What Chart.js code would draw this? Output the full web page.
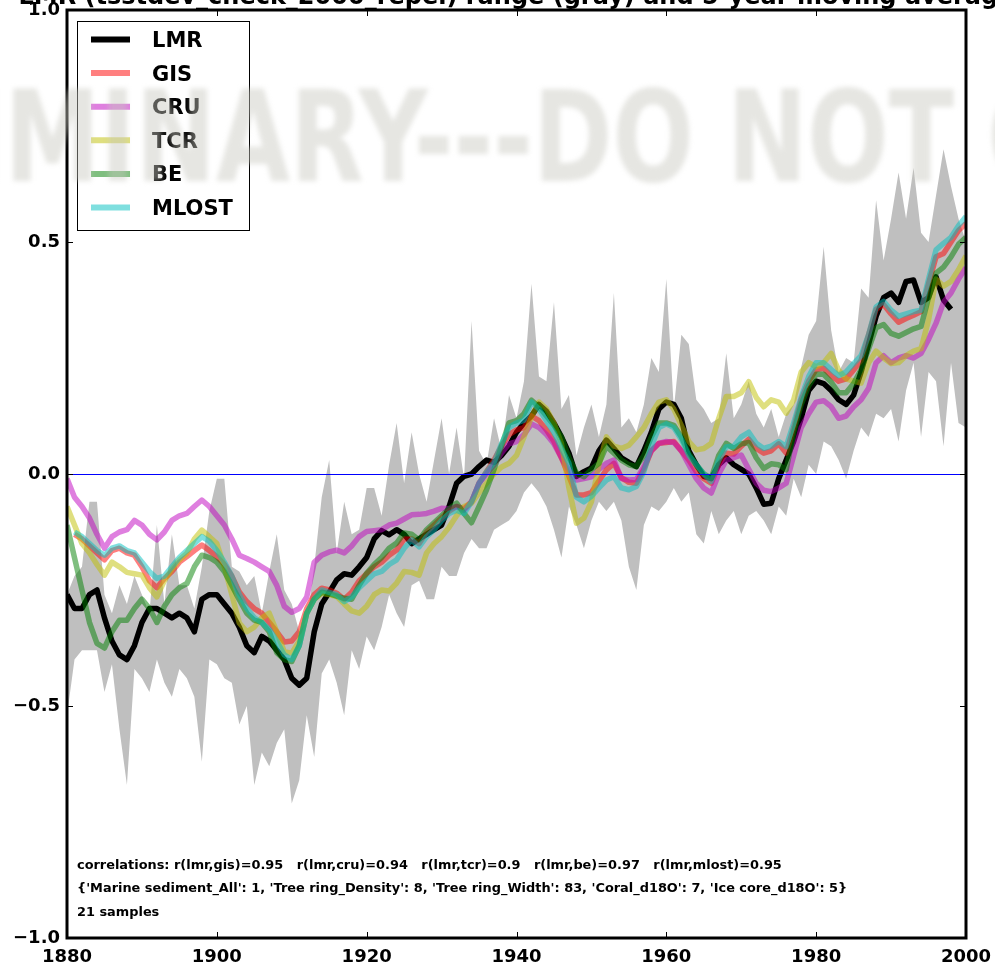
<!DOCTYPE html>
<html>
<head>
<meta charset="utf-8">
<script src="https://cdn.jsdelivr.net/npm/chart.js@4.4.0/dist/chart.umd.min.js"></script>
<style>
  html, body { margin: 0; padding: 0; background: #fff; }
  #wrap { width: 995px; height: 964px; position: relative; }
  canvas { display: block; }
</style>
</head>
<body>
<div id="wrap"><canvas id="c" width="995" height="964"></canvas></div>
<script>
// Annual values, one entry per year starting at firstYear (1880..2000)
const firstYear = 1880;

const lmr = [
  -0.26, -0.29, -0.29, -0.26, -0.25, -0.31, -0.36, -0.39, -0.40, -0.37,
  -0.32, -0.29, -0.29, -0.30, -0.31, -0.30, -0.31, -0.34, -0.27, -0.26,
  -0.26, -0.28, -0.30, -0.33, -0.37, -0.385, -0.35, -0.36, -0.38, -0.40,
  -0.44, -0.455, -0.44, -0.34, -0.28, -0.255, -0.228, -0.215, -0.218, -0.20,
  -0.18, -0.14, -0.122, -0.131, -0.12, -0.13, -0.15, -0.14, -0.13, -0.12,
  -0.11, -0.07, -0.02, -0.005, 0.00, 0.016, 0.03, 0.025, 0.04, 0.06,
  0.09, 0.11, 0.125, 0.15, 0.135, 0.11, 0.08, 0.045, -0.005, 0.005,
  0.013, 0.05, 0.073, 0.055, 0.035, 0.025, 0.016, 0.05, 0.09, 0.14,
  0.155, 0.15, 0.12, 0.05, 0.02, -0.005, -0.01, 0.02, 0.035, 0.02,
  0.01, 0.0, -0.03, -0.065, -0.063, -0.01, 0.03, 0.07, 0.12, 0.18,
  0.20, 0.195, 0.18, 0.16, 0.15, 0.17, 0.22, 0.28, 0.34, 0.38,
  0.39, 0.37, 0.415, 0.418, 0.37, 0.38, 0.425, 0.375, 0.355, null, null
];

const gis = [
  null, -0.13, -0.14, -0.155, -0.17, -0.185, -0.165, -0.16, -0.17, -0.175,
  -0.20, -0.23, -0.245, -0.225, -0.21, -0.19, -0.178, -0.165, -0.153, -0.165,
  -0.178, -0.195, -0.22, -0.254, -0.275, -0.29, -0.30, -0.32, -0.34, -0.362,
  -0.36, -0.34, -0.29, -0.26, -0.246, -0.25, -0.257, -0.27, -0.255, -0.23,
  -0.215, -0.20, -0.19, -0.175, -0.164, -0.14, -0.14, -0.15, -0.125, -0.11,
  -0.095, -0.08, -0.07, -0.075, -0.06, -0.02, 0.005, 0.03, 0.06, 0.085,
  0.095, 0.10, 0.125, 0.115, 0.095, 0.07, 0.035, -0.005, -0.045, -0.045,
  -0.04, -0.015, 0.009, 0.023, -0.008, -0.018, -0.02, 0.01, 0.05, 0.066,
  0.068, 0.07, 0.05, 0.03, 0.005, -0.01, -0.02, 0.02, 0.045, 0.043,
  0.06, 0.075, 0.055, 0.045, 0.05, 0.065, 0.045, 0.10, 0.16, 0.20,
  0.225, 0.228, 0.212, 0.20, 0.205, 0.224, 0.245, 0.30, 0.355, 0.365,
  0.345, 0.327, 0.335, 0.342, 0.35, 0.41, 0.468, 0.475, 0.50, 0.525, 0.54
];

const cru = [
  -0.01, -0.05, -0.07, -0.095, -0.13, -0.16, -0.135, -0.125, -0.12, -0.10,
  -0.11, -0.13, -0.142, -0.125, -0.10, -0.09, -0.085, -0.07, -0.056, -0.07,
  -0.09, -0.11, -0.14, -0.175, -0.182, -0.19, -0.20, -0.21, -0.24, -0.285,
  -0.298, -0.29, -0.265, -0.19, -0.175, -0.168, -0.164, -0.17, -0.155, -0.135,
  -0.124, -0.122, -0.12, -0.11, -0.106, -0.097, -0.088, -0.087, -0.085, -0.08,
  -0.074, -0.075, -0.07, -0.078, -0.06, -0.02, 0.0, 0.02, 0.045, 0.065,
  0.07, 0.085, 0.108, 0.10, 0.085, 0.065, 0.035, 0.008, -0.013, -0.01,
  -0.006, 0.01, 0.023, 0.03, -0.01, -0.013, -0.012, 0.016, 0.05, 0.066,
  0.07, 0.068, 0.05, 0.02, -0.01, -0.03, -0.041, 0.0, 0.03, 0.035,
  0.041, 0.01, -0.02, -0.035, -0.038, -0.03, -0.02, 0.04, 0.10, 0.13,
  0.155, 0.158, 0.145, 0.12, 0.125, 0.145, 0.16, 0.185, 0.24, 0.255,
  0.24, 0.25, 0.255, 0.25, 0.26, 0.29, 0.325, 0.37, 0.39, 0.42, 0.445
];

const tcr = [
  -0.07, -0.11, -0.15, -0.17, -0.195, -0.218, -0.19, -0.20, -0.212, -0.215,
  -0.218, -0.245, -0.265, -0.23, -0.205, -0.185, -0.171, -0.14, -0.121, -0.135,
  -0.15, -0.20, -0.26, -0.321, -0.34, -0.33, -0.31, -0.30, -0.34, -0.383,
  -0.386, -0.36, -0.30, -0.27, -0.257, -0.26, -0.264, -0.28, -0.295, -0.30,
  -0.285, -0.26, -0.25, -0.252, -0.235, -0.21, -0.212, -0.218, -0.17, -0.15,
  -0.135, -0.115, -0.09, -0.07, -0.063, -0.04, -0.02, 0.0, 0.015, 0.023,
  0.04, 0.08, 0.123, 0.155, 0.14, 0.11, 0.066, -0.03, -0.106, -0.095,
  -0.06, 0.02, 0.08, 0.06, 0.055, 0.062, 0.08, 0.10, 0.13, 0.155,
  0.16, 0.14, 0.105, 0.07, 0.052, 0.055, 0.066, 0.12, 0.167, 0.167,
  0.175, 0.199, 0.165, 0.145, 0.16, 0.155, 0.131, 0.16, 0.22, 0.24,
  0.231, 0.24, 0.26, 0.224, 0.205, 0.20, 0.196, 0.24, 0.265, 0.25,
  0.238, 0.24, 0.255, 0.265, 0.27, 0.332, 0.42, 0.405, 0.415, 0.44, 0.47
];

const be = [
  -0.11, -0.18, -0.25, -0.32, -0.365, -0.375, -0.34, -0.315, -0.315, -0.29,
  -0.27, -0.29, -0.32, -0.285, -0.26, -0.245, -0.236, -0.20, -0.175, -0.18,
  -0.19, -0.21, -0.24, -0.271, -0.30, -0.315, -0.32, -0.34, -0.385, -0.40,
  -0.404, -0.37, -0.30, -0.27, -0.255, -0.258, -0.263, -0.268, -0.27, -0.24,
  -0.214, -0.195, -0.18, -0.16, -0.149, -0.127, -0.13, -0.142, -0.12, -0.105,
  -0.09, -0.075, -0.063, -0.085, -0.105, -0.07, -0.034, 0.01, 0.06, 0.11,
  0.115, 0.13, 0.159, 0.145, 0.125, 0.105, 0.08, 0.035, 0.002, -0.006,
  0.01, 0.023, 0.06, 0.045, 0.03, 0.02, 0.016, 0.04, 0.08, 0.11,
  0.11, 0.105, 0.08, 0.045, 0.02, 0.0, -0.009, 0.04, 0.066, 0.055,
  0.065, 0.068, 0.035, 0.012, 0.022, 0.02, 0.009, 0.09, 0.15, 0.19,
  0.215, 0.215, 0.198, 0.175, 0.175, 0.195, 0.225, 0.27, 0.315, 0.322,
  0.303, 0.297, 0.305, 0.313, 0.318, 0.38, 0.433, 0.446, 0.468, 0.495, 0.51
];

const mlost = [
  null, -0.125, -0.135, -0.15, -0.165, -0.175, -0.16, -0.155, -0.165, -0.17,
  -0.19, -0.21, -0.225, -0.22, -0.20, -0.18, -0.165, -0.15, -0.135, -0.145,
  -0.165, -0.19, -0.22, -0.26, -0.29, -0.31, -0.32, -0.335, -0.36, -0.39,
  -0.40, -0.37, -0.30, -0.27, -0.25, -0.255, -0.26, -0.275, -0.265, -0.245,
  -0.23, -0.215, -0.21, -0.195, -0.185, -0.16, -0.142, -0.157, -0.135, -0.12,
  -0.10, -0.085, -0.078, -0.085, -0.06, -0.02, 0.005, 0.025, 0.065, 0.10,
  0.11, 0.116, 0.155, 0.14, 0.115, 0.09, 0.055, 0.023, -0.05, -0.06,
  -0.048, -0.03, -0.013, -0.006, -0.03, -0.034, -0.027, 0.005, 0.06, 0.10,
  0.108, 0.10, 0.075, 0.04, 0.02, 0.0, -0.016, 0.03, 0.059, 0.06,
  0.08, 0.09, 0.066, 0.055, 0.06, 0.07, 0.059, 0.11, 0.165, 0.21,
  0.24, 0.24, 0.225, 0.212, 0.22, 0.238, 0.255, 0.30, 0.36, 0.372,
  0.353, 0.34, 0.345, 0.35, 0.353, 0.42, 0.483, 0.497, 0.51, 0.535, 0.555
];

// Ensemble spread: annual upper and lower bounds
const rangeMax = [
  -0.26, -0.22, -0.20, -0.06, -0.06, -0.26, -0.30, -0.24, -0.28, -0.22,
  -0.26, -0.30, -0.11, -0.28, -0.13, -0.24, -0.24, -0.29, -0.20, -0.08,
  -0.01, -0.01, -0.20, -0.21, -0.24, -0.22, -0.30, -0.21, -0.13, -0.25,
  -0.28, -0.34, -0.32, -0.20, -0.05, 0.03, -0.17, -0.06, -0.13, -0.12,
  -0.03, -0.03, -0.09, 0.02, 0.11, -0.02, 0.09, 0.00, -0.06, 0.03,
  0.12, 0.00, 0.10, -0.01, 0.33, 0.05, 0.02, 0.12, 0.05, 0.17,
  0.12, 0.20, 0.41, 0.21, 0.20, 0.37, 0.14, 0.17, 0.04, 0.10,
  0.15, 0.08, 0.15, 0.39, 0.10, 0.12, 0.09, 0.15, 0.25, 0.22,
  0.42, 0.14, 0.30, 0.28, 0.16, 0.14, 0.11, 0.12, 0.26, 0.12,
  0.15, 0.20, 0.13, 0.10, 0.14, 0.08, 0.13, 0.15, 0.23, 0.30,
  0.33, 0.49, 0.31, 0.22, 0.25, 0.24, 0.40, 0.38, 0.59, 0.46,
  0.55, 0.65, 0.55, 0.66, 0.52, 0.50, 0.60, 0.70, 0.62, 0.55, 0.50
];

const rangeMin = [
  -0.52, -0.40, -0.38, -0.38, -0.38, -0.47, -0.41, -0.55, -0.67, -0.42,
  -0.44, -0.47, -0.40, -0.45, -0.48, -0.42, -0.44, -0.48, -0.62, -0.40,
  -0.41, -0.44, -0.45, -0.54, -0.50, -0.67, -0.60, -0.63, -0.58, -0.55,
  -0.71, -0.66, -0.52, -0.61, -0.43, -0.40, -0.45, -0.52, -0.38, -0.42,
  -0.35, -0.38, -0.33, -0.26, -0.30, -0.33, -0.24, -0.23, -0.27, -0.27,
  -0.20, -0.22, -0.22, -0.17, -0.14, -0.16, -0.16, -0.12, -0.11, -0.10,
  -0.08, -0.04, -0.02, -0.04, -0.07, -0.12, -0.18, -0.07, -0.11, -0.16,
  -0.10, -0.06, -0.08, -0.06, -0.10, -0.20, -0.25, -0.11, -0.07, -0.08,
  -0.06, -0.03, -0.06, -0.04, -0.13, -0.15, -0.08, -0.13, -0.10, -0.08,
  -0.13, -0.09, -0.08, -0.10, -0.13, -0.07, -0.09, -0.01, -0.05, 0.02,
  0.00, 0.07, 0.06, 0.03, -0.01, 0.05, 0.10, 0.08, 0.13, 0.12,
  0.14, 0.07, 0.18, 0.24, 0.08, 0.22, 0.20, 0.06, 0.24, 0.11, 0.10
];

const yTicks = [-1.0, -0.5, 0.0, 0.5, 1.0];
const xTicks = [1880, 1900, 1920, 1940, 1960, 1980, 2000];

const seriesNames = ['LMR', 'GIS', 'CRU', 'TCR', 'BE', 'MLOST'];
const seriesColors = {
  LMR: '#000000',
  GIS: 'rgba(255,0,0,0.5)',
  CRU: 'rgba(191,0,191,0.5)',
  TCR: 'rgba(191,191,0,0.5)',
  BE: 'rgba(0,128,0,0.5)',
  MLOST: 'rgba(0,191,191,0.5)'
};

const titleText = 'LMR (tsstdev_check_2000_repel) range (gray) and 5-year moving average';
const noteLines = [
  'correlations: r(lmr,gis)=0.95   r(lmr,cru)=0.94   r(lmr,tcr)=0.9   r(lmr,be)=0.97   r(lmr,mlost)=0.95',
  "{'Marine sediment_All': 1, 'Tree ring_Density': 8, 'Tree ring_Width': 83, 'Coral_d18O': 7, 'Ice core_d18O': 5}",
  '21 samples'
];
const watermark = 'PRELIMINARY---DO NOT CITE';

const FONT = '"DejaVu Sans", "Liberation Sans", sans-serif';

function toPoints(values) {
  return values.map((v, i) => ({ x: firstYear + i, y: v }));
}

function lineSet(name, values, order) {
  return {
    label: name,
    data: toPoints(values),
    borderColor: seriesColors[name],
    backgroundColor: seriesColors[name],
    borderWidth: 5.5,
    pointRadius: 0,
    tension: 0,
    fill: false,
    spanGaps: false,
    borderJoinStyle: 'round',
    borderCapStyle: 'butt',
    order: order,
    clip: 0
  };
}

const datasets = [
  lineSet('MLOST', mlost, 1),
  lineSet('BE', be, 2),
  lineSet('TCR', tcr, 3),
  lineSet('CRU', cru, 4),
  lineSet('GIS', gis, 5),
  lineSet('LMR', lmr, 6),
  {
    label: 'range max',
    data: toPoints(rangeMax),
    borderWidth: 0,
    borderColor: 'rgba(0,0,0,0)',
    backgroundColor: '#bfbfbf',
    pointRadius: 0,
    tension: 0,
    fill: '+1',
    order: 7,
    clip: 0
  },
  {
    label: 'range min',
    data: toPoints(rangeMin),
    borderWidth: 0,
    borderColor: 'rgba(0,0,0,0)',
    pointRadius: 0,
    tension: 0,
    fill: false,
    order: 8,
    clip: 0
  }
];

// Frame, inward ticks, zero line, legend, notes, title and watermark
const decorations = {
  id: 'decorations',
  afterDatasetsDraw(chart) {
    const ctx = chart.ctx;
    const a = chart.chartArea;
    const xs = chart.scales.x, ys = chart.scales.y;

    // zero reference line
    ctx.save();
    ctx.beginPath();
    ctx.rect(a.left, a.top, a.right - a.left, a.bottom - a.top);
    ctx.clip();
    const y0 = Math.round(ys.getPixelForValue(0)) + 0.5;
    ctx.strokeStyle = '#0000ff';
    ctx.lineWidth = 1.2;
    ctx.beginPath();
    ctx.moveTo(a.left, y0);
    ctx.lineTo(a.right, y0);
    ctx.stroke();
    ctx.restore();

    // inward tick marks
    ctx.save();
    ctx.strokeStyle = '#000';
    ctx.lineWidth = 1;
    xTicks.forEach(t => {
      const px = Math.round(xs.getPixelForValue(t)) + 0.5;
      ctx.beginPath();
      ctx.moveTo(px, a.bottom); ctx.lineTo(px, a.bottom - 6);
      ctx.moveTo(px, a.top); ctx.lineTo(px, a.top + 6);
      ctx.stroke();
    });
    yTicks.forEach(t => {
      const py = Math.round(ys.getPixelForValue(t)) + 0.5;
      ctx.beginPath();
      ctx.moveTo(a.left, py); ctx.lineTo(a.left + 6, py);
      ctx.moveTo(a.right, py); ctx.lineTo(a.right - 6, py);
      ctx.stroke();
    });
    ctx.restore();

    // legend
    ctx.save();
    const lx = 77.5, ly = 21.5, lw = 172, lh = 209;
    ctx.fillStyle = '#fff';
    ctx.fillRect(lx, ly, lw, lh);
    ctx.strokeStyle = '#000';
    ctx.lineWidth = 1;
    ctx.strokeRect(lx, ly, lw, lh);
    ctx.font = 'bold 21px ' + FONT;
    ctx.textBaseline = 'alphabetic';
    ctx.textAlign = 'left';
    seriesNames.forEach((name, i) => {
      const cy = 39.5 + i * 33.6;
      ctx.strokeStyle = seriesColors[name];
      ctx.lineWidth = 6;
      ctx.lineCap = 'butt';
      ctx.beginPath();
      ctx.moveTo(91, cy);
      ctx.lineTo(130, cy);
      ctx.stroke();
      ctx.fillStyle = '#000';
      ctx.fillText(name, 152, cy + 7.5);
    });
    ctx.restore();

    // notes at the bottom of the axes
    ctx.save();
    ctx.font = 'bold 12.9px ' + FONT;
    ctx.fillStyle = '#000';
    ctx.textBaseline = 'alphabetic';
    noteLines.forEach((s, i) => {
      ctx.fillText(s, 77, 868.5 + i * 23.5);
    });
    ctx.restore();

    // axes frame
    ctx.save();
    ctx.strokeStyle = '#000';
    ctx.lineWidth = 3;
    ctx.strokeRect(a.left, a.top, a.right - a.left, a.bottom - a.top);
    ctx.restore();
  },
  afterDraw(chart) {
    const ctx = chart.ctx;
    const a = chart.chartArea;

    // title, mostly above the top edge of the canvas
    ctx.save();
    ctx.font = 'bold 24px ' + FONT;
    ctx.fillStyle = '#000';
    ctx.textAlign = 'center';
    ctx.textBaseline = 'alphabetic';
    ctx.fillText(titleText, (a.left + a.right) / 2, 4);
    ctx.restore();

    // watermark across the upper part of the axes
    ctx.save();
    ctx.font = 'bold 126px ' + FONT;
    const sx = 0.76;
    const pre = ctx.measureText('PRELIMINARY---').width * sx;
    ctx.translate(533 - pre, 181);
    ctx.scale(sx, 1);
    ctx.filter = 'blur(2.5px)';
    ctx.fillStyle = 'rgba(200,200,190,0.45)';
    ctx.textBaseline = 'alphabetic';
    ctx.fillText(watermark, 0, 0);
    ctx.restore();
  }
};

new Chart(document.getElementById('c'), {
  type: 'line',
  data: { datasets },
  options: {
    responsive: false,
    animation: false,
    devicePixelRatio: 1,
    layout: { padding: { top: 10, right: 29, left: 0, bottom: 0 } },
    plugins: {
      legend: { display: false },
      tooltip: { enabled: false },
      title: { display: false }
    },
    scales: {
      x: {
        type: 'linear',
        min: 1880,
        max: 2000,
        afterBuildTicks(scale) { scale.ticks = xTicks.map(v => ({ value: v })); },
        afterFit(scale) {
          scale.height = 26;
          scale.paddingLeft = 0;
          scale.paddingRight = 0;
        },
        grid: { display: false, drawTicks: false },
        border: { display: false },
        ticks: {
          color: '#000',
          font: { family: FONT, size: 18, weight: 'bold' },
          padding: 9,
          maxRotation: 0,
          autoSkip: false,
          callback: v => String(v)
        }
      },
      y: {
        type: 'linear',
        min: -1,
        max: 1,
        afterBuildTicks(scale) { scale.ticks = yTicks.map(v => ({ value: v })); },
        afterFit(scale) {
          scale.width = 67;
          scale.paddingTop = 0;
          scale.paddingBottom = 0;
        },
        grid: { display: false, drawTicks: false },
        border: { display: false },
        ticks: {
          color: '#000',
          font: { family: FONT, size: 18, weight: 'bold' },
          padding: 7,
          autoSkip: false,
          callback: v => v.toFixed(1).replace('-', '\u2212')
        }
      }
    }
  },
  plugins: [decorations]
});
</script>
</body>
</html>
